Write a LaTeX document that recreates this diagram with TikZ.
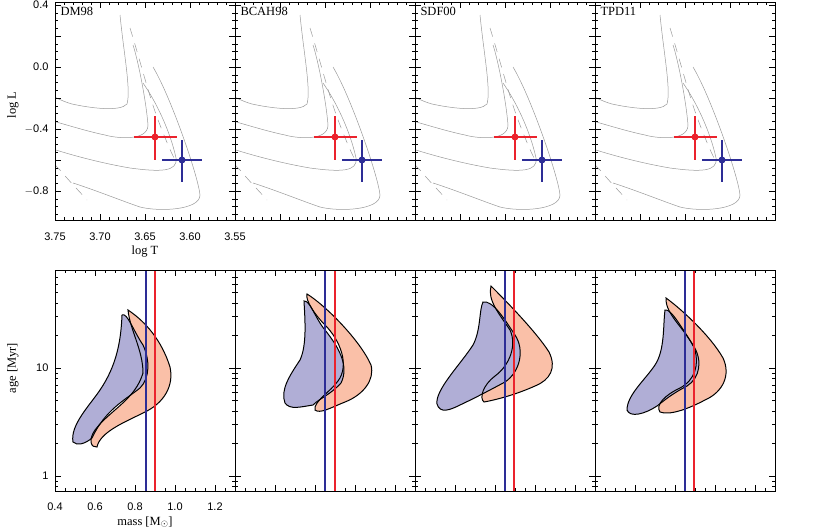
\documentclass[tikz,border=0pt]{standalone}
\usepackage{fontspec}
\setmainfont{Liberation Serif}
\setsansfont{Liberation Sans}
\usetikzlibrary{calc, positioning}
\definecolor{obsred}{RGB}{235,35,45}
\definecolor{obsblue}{RGB}{45,45,150}
\definecolor{fillblue}{RGB}{176,174,214}
\definecolor{fillred}{RGB}{250,192,168}
\tikzset{
    frame/.style={draw=black, line width=1pt},
    iso/.style={draw=gray!80, line width=0.5pt},
    track/.style={draw=gray!80, line width=0.5pt, dash pattern=on 9pt off 7pt},
    errbar/.style={line width=1.3pt},
    massline/.style={line width=2pt},
    cont/.style={draw=black, line width=1pt},
    ticklabel/.style={font=\sffamily\fontsize{11}{12}\selectfont},
    axislabel/.style={font=\fontsize{12.5}{14}\selectfont},
    panellabel/.style={font=\fontsize{12.5}{14}\selectfont, anchor=north west}
}
% gray model tracks of one upper panel
\newcommand{\isochrones}{
    \draw[iso] (0,68) .. controls (30,80) and (50,98) .. (72,104) .. controls (90,108) and (120,112) .. (127,104) .. controls (131,90) and (124,55) .. (120,15);
    \draw[iso] (17,112) .. controls (40,116) and (80,130) .. (105,135) .. controls (115,138) and (148,142) .. (148,125) .. controls (146,100) and (138,60) .. (133,45);
    \draw[iso] (35,143) .. controls (60,152) and (95,162) .. (130,168) .. controls (160,172) and (178,172) .. (176,158) .. controls (170,130) and (155,100) .. (143,83);
    \draw[iso] (73,183) .. controls (95,190) and (125,202) .. (140,207) .. controls (160,212) and (200,210) .. (200,195) .. controls (198,175) and (170,95) .. (153,67);
    \draw[track] (7,100) .. controls (20,120) and (40,150) .. (60,170) .. controls (70,182) and (80,192) .. (87,200);
    \draw[track] (130,28) .. controls (140,60) and (150,100) .. (160,125) .. controls (165,138) and (170,150) .. (175,160);
}
\begin{document}
\begin{tikzpicture}[x=1pt, y=-1pt]
    \useasboundingbox (0,0) rectangle (830,531);
    % upper row: HR diagrams
    \foreach \k/\name in {0/DM98, 1/BCAH98, 2/SDF00, 3/TPD11} {
        \begin{scope}[xshift=\k*180pt]
            \begin{scope}[shift={(55,0)}]
                \begin{scope}
                    \clip (0,2) rectangle (180,220);
                    \begin{scope}[shift={(-55,0)}]
                        \isochrones
                    \end{scope}
                \end{scope}
                \draw[errbar, obsred] (79,137) -- (122,137) (100,116) -- (100,160);
                \fill[obsred] (100,137) circle (3.5pt);
                \draw[errbar, obsblue] (107,160) -- (147,160) (127,140) -- (127,182);
                \fill[obsblue] (127,160) circle (3.5pt);
                \node[panellabel] (hrname\k) at (2,4) {\name};
                \foreach \t in {0,9,...,180} {
                    \draw (\t,220) -- (\t,217) (\t,2) -- (\t,5);
                }
                \foreach \t in {0,45,...,180} {
                    \draw (\t,220) -- (\t,214) (\t,2) -- (\t,8);
                }
                \foreach \t in {5,12.75,...,220} {
                    \draw (0,\t) -- (3,\t) (180,\t) -- (177,\t);
                }
                \foreach \t in {5,36,...,220} {
                    \draw (0,\t) -- (6,\t) (180,\t) -- (174,\t);
                }
                \draw[frame] (0,2) rectangle (180,220);
            \end{scope}
        \end{scope}
    }
    % lower row: age versus mass
    \foreach \k in {0,1,2,3} {
        \begin{scope}[xshift=\k*180pt]
            \begin{scope}[shift={(55,0)}]
                \foreach \t in {0,10,...,180} {
                    \draw (\t,491) -- (\t,488) (\t,270) -- (\t,273);
                }
                \foreach \t in {0,40,...,180} {
                    \draw (\t,491) -- (\t,485) (\t,270) -- (\t,276);
                }
                \foreach \a in {0.8,0.9,2,3,4,5,6,7,8,9,20,30,40,50,60,70,80} {
                    \pgfmathsetmacro{\ya}{476-108*ln(\a)/ln(10)}
                    \draw (0,\ya) -- (3,\ya) (180,\ya) -- (177,\ya);
                }
                \foreach \ya in {476,368} {
                    \draw (0,\ya) -- (6,\ya) (180,\ya) -- (174,\ya);
                }
            \end{scope}
        \end{scope}
    }
    % contours, panel by panel
    \begin{scope}[shift={(55,0)}]
        \path[fill=fillred] (73,310) .. controls (85,318) and (105,335) .. (115,367) .. controls (119,385) and (110,403) .. (88,413) .. controls (70,422) and (45,432) .. (42,447) .. controls (36,448) and (33,440) .. (40,430) .. controls (55,410) and (80,400) .. (88,373) .. controls (88,350) and (75,330) .. (73,310) -- cycle;
        \path[fill=fillblue] (67,315) .. controls (72,312) and (78,330) .. (88,345) .. controls (95,360) and (95,378) .. (85,388) .. controls (70,400) and (50,410) .. (37,438) .. controls (30,444) and (22,446) .. (18,442) .. controls (15,425) and (35,405) .. (45,390) .. controls (62,365) and (66,340) .. (67,315) -- cycle;
        \draw[cont] (73,310) .. controls (85,318) and (105,335) .. (115,367) .. controls (119,385) and (110,403) .. (88,413) .. controls (70,422) and (45,432) .. (42,447) .. controls (36,448) and (33,440) .. (40,430) .. controls (55,410) and (80,400) .. (88,373) .. controls (88,350) and (75,330) .. (73,310) -- cycle;
        \draw[cont] (67,315) .. controls (72,312) and (78,330) .. (88,345) .. controls (95,360) and (95,378) .. (85,388) .. controls (70,400) and (50,410) .. (37,438) .. controls (30,444) and (22,446) .. (18,442) .. controls (15,425) and (35,405) .. (45,390) .. controls (62,365) and (66,340) .. (67,315) -- cycle;
        \draw[massline, obsblue] (91,270) -- (91,491);
        \draw[massline, obsred] (100,270) -- (100,491);
    \end{scope}
    \begin{scope}[shift={(235,0)}]
        \path[fill=fillred] (72,294) .. controls (90,305) and (125,340) .. (136,365) .. controls (140,380) and (128,395) .. (110,402) .. controls (95,408) and (85,414) .. (80,410) .. controls (78,402) and (95,392) .. (103,381) .. controls (115,365) and (105,340) .. (90,325) .. controls (80,315) and (70,300) .. (72,294) -- cycle;
        \path[fill=fillblue] (69,301) .. controls (75,300) and (80,318) .. (90,330) .. controls (102,345) and (115,365) .. (106,383) .. controls (95,395) and (85,398) .. (78,405) .. controls (65,407) and (55,410) .. (50,403) .. controls (45,390) and (55,375) .. (65,360) .. controls (72,345) and (70,320) .. (69,301) -- cycle;
        \draw[cont] (72,294) .. controls (90,305) and (125,340) .. (136,365) .. controls (140,380) and (128,395) .. (110,402) .. controls (95,408) and (85,414) .. (80,410) .. controls (78,402) and (95,392) .. (103,381) .. controls (115,365) and (105,340) .. (90,325) .. controls (80,315) and (70,300) .. (72,294) -- cycle;
        \draw[cont] (69,301) .. controls (75,300) and (80,318) .. (90,330) .. controls (102,345) and (115,365) .. (106,383) .. controls (95,395) and (85,398) .. (78,405) .. controls (65,407) and (55,410) .. (50,403) .. controls (45,390) and (55,375) .. (65,360) .. controls (72,345) and (70,320) .. (69,301) -- cycle;
        \draw[massline, obsblue] (90,270) -- (90,491);
        \draw[massline, obsred] (100,270) -- (100,491);
    \end{scope}
    \begin{scope}[shift={(415,0)}]
        \path[fill=fillred] (76,286) .. controls (85,295) and (120,330) .. (134,352) .. controls (142,368) and (135,380) .. (120,386) .. controls (100,395) and (80,400) .. (69,402) .. controls (64,398) and (68,385) .. (80,376) .. controls (95,365) and (102,345) .. (95,330) .. controls (85,315) and (72,300) .. (76,286) -- cycle;
        \path[fill=fillblue] (68,302) .. controls (78,300) and (90,320) .. (100,335) .. controls (110,350) and (105,372) .. (90,382) .. controls (75,390) and (60,398) .. (45,405) .. controls (35,410) and (25,414) .. (22,404) .. controls (20,390) and (45,365) .. (58,345) .. controls (66,330) and (64,310) .. (68,302) -- cycle;
        \draw[cont] (76,286) .. controls (85,295) and (120,330) .. (134,352) .. controls (142,368) and (135,380) .. (120,386) .. controls (100,395) and (80,400) .. (69,402) .. controls (64,398) and (68,385) .. (80,376) .. controls (95,365) and (102,345) .. (95,330) .. controls (85,315) and (72,300) .. (76,286) -- cycle;
        \draw[cont] (68,302) .. controls (78,300) and (90,320) .. (100,335) .. controls (110,350) and (105,372) .. (90,382) .. controls (75,390) and (60,398) .. (45,405) .. controls (35,410) and (25,414) .. (22,404) .. controls (20,390) and (45,365) .. (58,345) .. controls (66,330) and (64,310) .. (68,302) -- cycle;
        \draw[massline, obsblue] (90,270) -- (90,491);
        \draw[massline, obsred] (99,270) -- (99,491);
    \end{scope}
    \begin{scope}[shift={(595,0)}]
        \path[fill=fillred] (71,298) .. controls (85,308) and (115,335) .. (128,358) .. controls (136,375) and (128,392) .. (110,400) .. controls (95,408) and (75,416) .. (65,412) .. controls (60,405) and (70,395) .. (85,388) .. controls (100,380) and (104,365) .. (100,350) .. controls (92,330) and (70,315) .. (71,298) -- cycle;
        \path[fill=fillblue] (70,310) .. controls (76,308) and (88,330) .. (98,345) .. controls (108,360) and (105,378) .. (92,386) .. controls (75,395) and (70,400) .. (62,406) .. controls (50,414) and (35,418) .. (32,410) .. controls (32,395) and (50,380) .. (60,365) .. controls (70,350) and (68,325) .. (70,310) -- cycle;
        \draw[cont] (71,298) .. controls (85,308) and (115,335) .. (128,358) .. controls (136,375) and (128,392) .. (110,400) .. controls (95,408) and (75,416) .. (65,412) .. controls (60,405) and (70,395) .. (85,388) .. controls (100,380) and (104,365) .. (100,350) .. controls (92,330) and (70,315) .. (71,298) -- cycle;
        \draw[cont] (70,310) .. controls (76,308) and (88,330) .. (98,345) .. controls (108,360) and (105,378) .. (92,386) .. controls (75,395) and (70,400) .. (62,406) .. controls (50,414) and (35,418) .. (32,410) .. controls (32,395) and (50,380) .. (60,365) .. controls (70,350) and (68,325) .. (70,310) -- cycle;
        \draw[massline, obsblue] (90,270) -- (90,491);
        \draw[massline, obsred] (99,270) -- (99,491);
    \end{scope}
    \foreach \k in {0,1,2,3} {
        \draw[frame] (55+\k*180,270) rectangle (235+\k*180,491);
    }
    % tick labels and axis titles
    \foreach \v/\y in {0.4/5, 0.0/67, {$-$0.4}/129, {$-$0.8}/191} {
        \node[ticklabel, anchor=east] at (52,\y) {\v};
    }
    \foreach \v [count=\i from 0] in {3.75,3.70,3.65,3.60,3.55} {
        \node[ticklabel] at (55+\i*45,237) {\v};
    }
    \foreach \v [count=\i from 0] in {0.4,0.6,0.8,1.0,1.2} {
        \node[ticklabel] at (55+\i*40,507) {\v};
    }
    \node[ticklabel, anchor=east] at (52,476) {1};
    \node[ticklabel, anchor=east] at (52,368) {10};
    \node[axislabel] (xlabeltop) at (145,252) {log T};
    \node[axislabel, rotate=90] (ylabeltop) at (13,105) {log L};
    \node[axislabel] (xlabelbot) at (145,522) {mass [M$_\odot$]};
    \node[axislabel, rotate=90] (ylabelbot) at (13,368) {age [Myr]};
\end{tikzpicture}
\end{document}
